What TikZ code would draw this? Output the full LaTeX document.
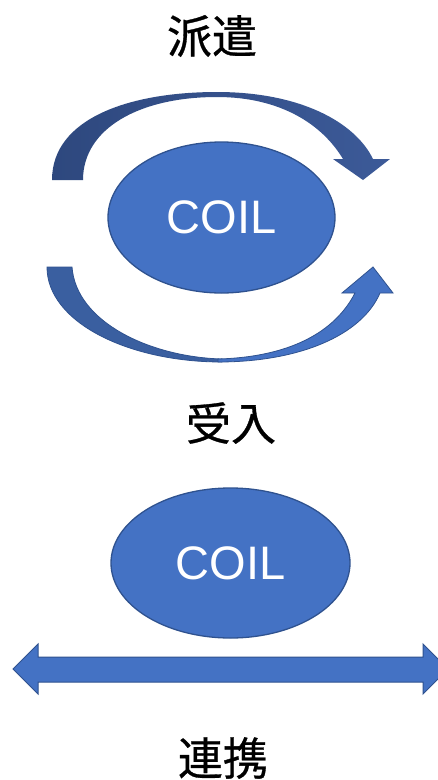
\documentclass[tikz,border=0pt]{standalone}
\usepackage{fontspec}
\setmainfont{Liberation Sans}
\newfontfamily\cjk[FakeBold=0.7]{Noto Sans CJK JP}
\definecolor{blfill}{RGB}{68,114,196}
\definecolor{blline}{RGB}{47,82,143}
\definecolor{bldark}{RGB}{58,95,160}
\definecolor{topdarkA}{RGB}{46,72,126}
\definecolor{topdarkB}{RGB}{60,90,152}
\tikzset{
  coil/.style={ellipse, fill=blfill, draw=blline, line width=1.3pt, text=white,
    font=\fontsize{47}{47}\selectfont, inner sep=0pt},
  jlabel/.style={font=\cjk\fontsize{45}{45}\selectfont, inner sep=0pt},
  arrowbody/.style={fill=blfill, draw=blline, line width=1pt, line join=miter},
}
\usetikzlibrary{shapes.geometric}
\begin{document}
\begin{tikzpicture}[x=1pt,y=-1pt]
\clip (0,0) rectangle (438,780);
\fill[white] (0,0) rectangle (438,780);

% labels
\node[jlabel] (haken) at (212,36) {派遣};
\node[jlabel] (ukeire) at (231,423) {受入};
\node[jlabel] (renkei) at (223,758) {連携};

% top ellipse
\node[coil, minimum width=227pt, minimum height=151pt] (coil1) at (221.5,217.5) {COIL};
% bottom ellipse
\node[coil, minimum width=239pt, minimum height=150pt] (coil2) at (230.5,563) {COIL};

% top curved arrow (down)
\shade[left color=topdarkA, right color=topdarkB]
  (52,180) .. controls (52,118) and (130,92) .. (217,92)
  .. controls (300,92) and (355,122) .. (373,159)
  -- (390,159) -- (363,180) -- (333,159) -- (343,159)
  .. controls (322,124) and (280,97) .. (217,97)
  .. controls (140,97) and (83,128) .. (83,180) -- cycle;

% bottom curved arrow (up): back band
\filldraw[fill=bldark, draw=blline, line width=0.8pt]
  (47,267) -- (72,267)
  .. controls (76,322) and (150,357) .. (222,359)
  -- (222,362)
  .. controls (128,362) and (47,322) .. (47,267) -- cycle;
% front band with head
\filldraw[fill=blfill, draw=blline, line width=0.8pt]
  (218,362) .. controls (300,362) and (362,335) .. (380,293)
  -- (393,293) -- (373,267) -- (342,293) -- (355,293)
  .. controls (335,332) and (290,357) .. (218,359) -- cycle;

% double arrow
\filldraw[arrowbody]
  (13,669) -- (38,644) -- (38,657) -- (423,657) -- (423,644) -- (448,669)
  -- (423,694) -- (423,682) -- (38,682) -- (38,694) -- cycle;
\end{tikzpicture}
\end{document}
